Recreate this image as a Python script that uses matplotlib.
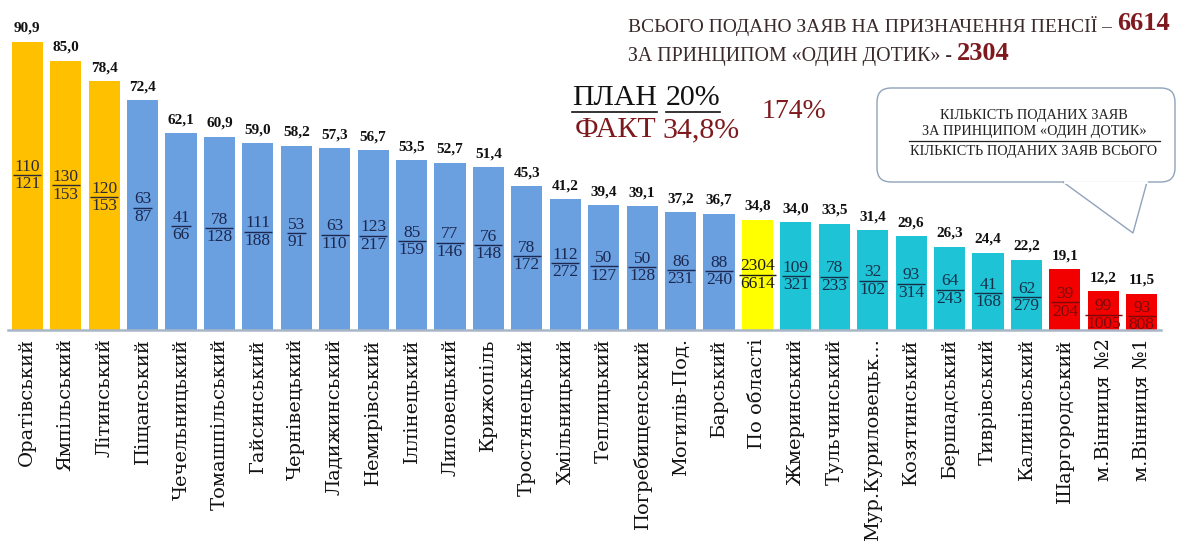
import matplotlib
matplotlib.use('Agg')
import matplotlib.pyplot as plt
from matplotlib.patches import FancyBboxPatch, Polygon
from matplotlib.lines import Line2D
from matplotlib.transforms import IdentityTransform

districts = ['Оратівський', 'Ямпільський', 'Літинський', 'Піщанський', 'Чечельницький',
             'Томашпільський', 'Гайсинський', 'Чернівецький', 'Ладижинський', 'Немирівський',
             'Іллінецький', 'Липовецький', 'Крижопіль', 'Тростянецький', 'Хмільницький',
             'Теплицький', 'Погребищенський', 'Могилів-Под.', 'Барський', 'По області',
             'Жмеринський', 'Тульчинський', 'Мур.Куриловецьк...', 'Козятинський', 'Бершадський',
             'Тиврівський', 'Калинівський', 'Шаргородський', 'м.Вінниця №2', 'м.Вінниця №1']
percent = [90.9, 85.0, 78.4, 72.4, 62.1, 60.9, 59.0, 58.2, 57.3, 56.7, 53.5, 52.7, 51.4, 45.3,
           41.2, 39.4, 39.1, 37.2, 36.7, 34.8, 34.0, 33.5, 31.4, 29.6, 26.3, 24.4, 22.2, 19.1,
           12.2, 11.5]
one_touch = [110, 130, 120, 63, 41, 78, 111, 53, 63, 123, 85, 77, 76, 78, 112, 50, 50, 86, 88,
             2304, 109, 78, 32, 93, 64, 41, 62, 39, 99, 93]
total = [121, 153, 153, 87, 66, 128, 188, 91, 110, 217, 159, 146, 148, 172, 272, 127, 128, 231,
         240, 6614, 321, 233, 102, 314, 243, 168, 279, 204, 1005, 808]
groups = ['leader'] * 3 + ['above'] * 16 + ['region'] + ['below'] * 7 + ['lagging'] * 3

total_all = 6614
total_one_touch = 2304
plan_txt = 'ПЛАН'
plan_val = '20%'
fact_txt = 'ФАКТ'
fact_val = '34,8%'
ratio_txt = '174%'

bar_colors = {'leader': '#FFC000', 'above': '#6A9FE0', 'region': '#FFFF00',
              'below': '#1EC3D6', 'lagging': '#F20000'}
frac_colors = {'leader': '#2B2A3A', 'above': '#1B2850', 'region': '#1A1A1A',
               'below': '#16304A', 'lagging': '#7A0A0A'}
DARKRED = '#7E1A1E'
SERIF = ['Liberation Serif', 'DejaVu Serif']
LABEL_SERIF = ['DejaVu Serif', 'Liberation Serif']

W, H = 1198, 559
fig = plt.figure(figsize=(W / 100, H / 100), dpi=100)
fig.patch.set_facecolor('white')

def fx(x):
    return x / W

def fy(y):
    return 1 - y / H

ax = fig.add_axes([fx(8), fy(330), 1153 / W, 317 / H])
x = list(range(len(districts)))
ax.bar(x, percent, width=0.81, color=[bar_colors[g] for g in groups], zorder=2)
ax.set_xlim(-0.5, len(districts) - 0.5)
ax.set_ylim(0, 100)
for s in ['top', 'right', 'left']:
    ax.spines[s].set_visible(False)
ax.spines['bottom'].set_color('#A9B6C6')
ax.spines['bottom'].set_linewidth(1.8)
ax.set_yticks([])
ax.set_xticks(x)
ax.set_xticklabels(districts, rotation=90, ha='center', va='top', family=LABEL_SERIF,
                   fontsize=14, color='#111111')
ax.tick_params(axis='x', length=0, pad=6)

for i, (v, n, d, g) in enumerate(zip(percent, one_touch, total, groups)):
    ax.annotate(f'{v:.1f}'.replace('.', ','), (i, v), xytext=(0, 5), textcoords='offset points',
                ha='center', va='bottom', fontsize=11, fontweight='bold', family=SERIF,
                color='#111111')
    yc = v * 0.56 - 2
    c = frac_colors[g]
    ax.annotate(str(n), (i, yc), xytext=(0, 0.3), textcoords='offset points', ha='center',
                va='bottom', fontsize=12.5, family=SERIF, color=c)
    ax.annotate(str(d), (i, yc), xytext=(0, -0.8), textcoords='offset points', ha='center',
                va='top', fontsize=12.5, family=SERIF, color=c)
    hw = 0.115 * max(len(str(n)), len(str(d))) + 0.02
    ax.plot([i - hw, i + hw], [yc, yc], color=c, lw=1.0, solid_capstyle='butt', zorder=3)

# header texts
t1 = fig.text(fx(628), fy(26), 'ВСЬОГО ПОДАНО ЗАЯВ НА ПРИЗНАЧЕННЯ ПЕНСІЇ – ', family=SERIF,
              fontsize=14, color='#3A2A2A', va='center', ha='left')
fig.canvas.draw()
r = fig.canvas.get_renderer()
bb = t1.get_window_extent(r)
fig.text(bb.x1 / W, fy(24), str(total_all), family=SERIF, fontsize=19, fontweight='bold',
         color=DARKRED, va='center', ha='left')
t2 = fig.text(fx(628), fy(56), 'ЗА ПРИНЦИПОМ «ОДИН ДОТИК» - ', family=SERIF,
              fontsize=14.3, color='#3A2A2A', va='center', ha='left')
fig.canvas.draw()
bb = t2.get_window_extent(r)
fig.text(bb.x1 / W, fy(54), str(total_one_touch), family=SERIF, fontsize=19, fontweight='bold',
         color=DARKRED, va='center', ha='left')

tp = fig.text(fx(572), fy(98), plan_txt, family=SERIF, fontsize=21.5, color='#111111',
              va='center', ha='left')
fig.canvas.draw()
bbp = tp.get_window_extent(r)
tpv = fig.text(bbp.x1 / W + fx(9), fy(98), plan_val, family=SERIF, fontsize=21.5,
               color='#111111', va='center', ha='left')
tf = fig.text(fx(575), fy(130), fact_txt, family=SERIF, fontsize=21.5, color=DARKRED,
              va='center', ha='left')
fig.canvas.draw()
bbf = tf.get_window_extent(r)
fig.text(bbf.x1 / W + fx(6), fy(130), fact_val, family=SERIF, fontsize=21.5, color=DARKRED,
         va='center', ha='left')
bbv = tpv.get_window_extent(r)
for b in (bbp, bbv):
    fig.add_artist(Line2D([b.x0 / W, b.x1 / W], [fy(112), fy(112)], color='#111111', lw=1.2,
                          transform=fig.transFigure))
fig.text(fx(762), fy(112), ratio_txt, family=SERIF, fontsize=20, color=DARKRED,
         va='center', ha='left')

# callout (display pixel coordinates)
def P(xp, yp):
    return (xp, H - yp)

box = FancyBboxPatch(P(877, 182), 1175 - 877, 182 - 88,
                     boxstyle='round,pad=0,rounding_size=14', transform=IdentityTransform(),
                     facecolor='white', edgecolor='#8FA3BA', lw=1.0, zorder=5)
fig.add_artist(box)
tail = Polygon([P(1063, 182), P(1133, 233), P(1147, 182)], closed=False,
               transform=IdentityTransform(), facecolor='white', edgecolor='#8FA3BA', lw=1.0,
               zorder=6)
fig.add_artist(tail)
fig.add_artist(Line2D([1064.5, 1145.5], [H - 182, H - 182], color='white', lw=2.0,
                      transform=IdentityTransform(), zorder=7))
for yy, s in [(115, 'КІЛЬКІСТЬ ПОДАНИХ ЗАЯВ'), (132, 'ЗА ПРИНЦИПОМ «ОДИН ДОТИК»'),
              (151, 'КІЛЬКІСТЬ ПОДАНИХ ЗАЯВ ВСЬОГО')]:
    fig.text(fx(1034), fy(yy), s, family=SERIF, fontsize=10.3, color='#222222', ha='center',
             va='center', zorder=8)
fig.add_artist(Line2D([fx(909), fx(1160)], [fy(140.5), fy(140.5)], color='#222222', lw=0.9,
                      transform=fig.transFigure, zorder=8))

fig.savefig('out.png', dpi=100, facecolor='white')
